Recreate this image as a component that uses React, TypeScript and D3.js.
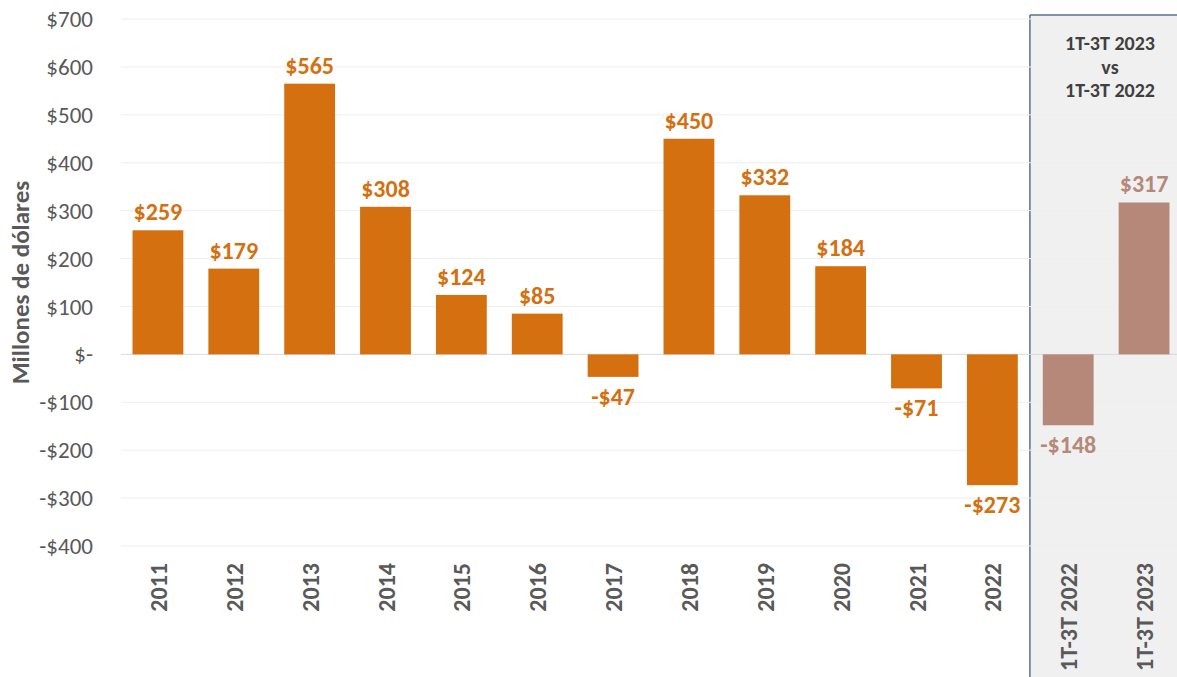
import React from 'react'
import * as d3 from 'd3'

const categories = ['2011', '2012', '2013', '2014', '2015', '2016', '2017', '2018', '2019', '2020', '2021', '2022', '1T-3T 2022', '1T-3T 2023']
const values = [259, 179, 565, 308, 124, 85, -47, 450, 332, 184, -71, -273, -148, 317]
const compareCats = ['1T-3T 2022', '1T-3T 2023']
const yTicks = [700, 600, 500, 400, 300, 200, 100, 0, -100, -200, -300, -400]
const panelTitle = ['1T-3T 2023', 'vs', '1T-3T 2022']

const W = 1177
const H = 677
const FONT = 'Carlito, "Open Sans", "Liberation Sans", sans-serif'

const fmtTick = (v: number) => (v === 0 ? '$-' : v < 0 ? `-$${Math.abs(v)}` : `$${v}`)
const fmtLabel = (v: number) => (v < 0 ? `-$${Math.abs(v)}` : `$${v}`)

export default function App() {
  const x = d3.scaleBand<string>().domain(categories).range([120, 1182]).paddingInner(0.33).paddingOuter(0.165)
  const y = d3.scaleLinear().domain([-400, 700]).range([546, 19])

  const panelX = (x('1T-3T 2022') as number) - x.step() * 0.17

  return (
    <svg width={W} height={H} style={{ position: 'absolute', left: 0, top: 0, background: '#fff' }}>
      {/* comparison panel */}
      <rect x={panelX} y={15} width={W - panelX + 2} height={H} fill="#f0f0f0" />
      <line x1={panelX} x2={panelX} y1={15} y2={H} stroke="#5b6f9a" strokeWidth={1.5} />
      <line x1={panelX} x2={W} y1={15} y2={15} stroke="#5b6f9a" strokeWidth={1.5} />

      {/* grid */}
      {yTicks.map(t => (
        <line key={t} x1={121} x2={W} y1={y(t)} y2={y(t)} stroke={t === 0 ? '#d9d9d9' : '#eeeeee'} strokeWidth={1} />
      ))}

      {/* y ticks */}
      {yTicks.map(t => (
        <text key={t} x={93} y={y(t)} dy="0.35em" textAnchor="end" fontFamily={FONT} fontSize={23} fill="#595959">
          {fmtTick(t)}
        </text>
      ))}
      <text transform={`translate(29,${y(150)}) rotate(-90)`} textAnchor="middle" fontFamily={FONT} fontSize={25} fontWeight="bold" fill="#595959">
        Millones de dólares
      </text>

      {/* bars */}
      {categories.map((c, i) => {
        const v = values[i]
        const cmp = compareCats.includes(c)
        const color = cmp ? '#b5887a' : '#d4700f'
        const bx = x(c) as number
        const top = y(Math.max(0, v))
        const h = Math.abs(y(v) - y(0))
        const ly = v >= 0 ? y(v) - 10 : y(v) + 28
        return (
          <g key={c}>
            <rect x={bx} y={top} width={x.bandwidth()} height={h} fill={color} />
            <text x={bx + x.bandwidth() / 2} y={ly} textAnchor="middle" fontFamily={FONT} fontSize={24} fontWeight="bold" fill={color}>
              {fmtLabel(v)}
            </text>
            <text
              transform={`translate(${bx + x.bandwidth() / 2 + 9},563) rotate(-90)`}
              textAnchor="end"
              fontFamily={FONT}
              fontSize={24}
              fontWeight="bold"
              fill="#595959"
            >
              {c}
            </text>
          </g>
        )
      })}

      {/* panel title */}
      {panelTitle.map((t, i) => (
        <text key={i} x={1110} y={50 + i * 23.5} textAnchor="middle" fontFamily={FONT} fontSize={20} fontWeight="bold" fill="#404040">
          {t}
        </text>
      ))}
    </svg>
  )
}
